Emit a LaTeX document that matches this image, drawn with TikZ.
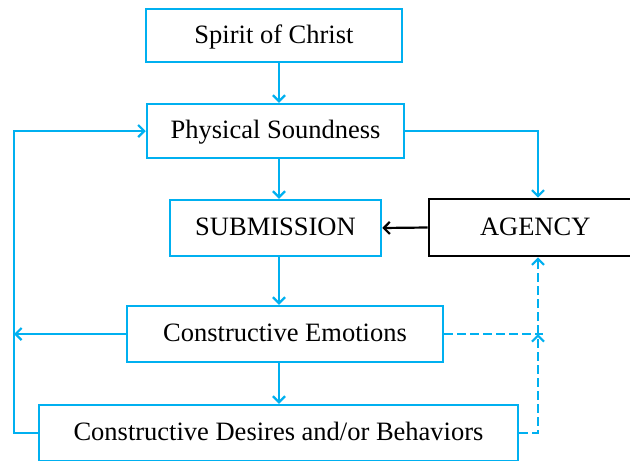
\documentclass[tikz,border=0pt]{standalone}
\usepackage{fontspec}
\setmainfont{Liberation Serif}
\usetikzlibrary{arrows.meta}
\definecolor{flowblue}{RGB}{0,176,240}
\begin{document}
\begin{tikzpicture}[x=1pt,y=-1pt,
  box/.style={draw=flowblue,line width=2.5pt,fill=white,inner sep=0pt,
    text height=17pt,text depth=2pt,
    font=\fontsize{26.5}{30}\selectfont},
  blackbox/.style={box,draw=black,line width=2.6pt},
  link/.style={draw=flowblue,line width=2.4pt,-{Straight Barb[length=6pt,width=12pt,line width=2.2pt]}},
  plain/.style={draw=flowblue,line width=2.4pt},
  blacklink/.style={draw=black,line width=2.2pt,-{Straight Barb[length=6pt,width=12pt,line width=2.2pt]}},
  dashlink/.style={link,dash pattern=on 9pt off 4pt},
  dashline/.style={plain,dash pattern=on 9pt off 4pt}]
\clip (0,0) rectangle (630,461);
\fill[white] (0,0) rectangle (630,461);

% boxes
\node[box,minimum width=256pt,minimum height=53pt] (spirit) at (274,35.5) {Spirit of Christ};
\node[box,minimum width=257pt,minimum height=54pt] (phys) at (275.5,131) {Physical Soundness};
\node[box,minimum width=211pt,minimum height=56pt] (sub) at (275.5,228) {SUBMISSION};
\node[blackbox,minimum width=214pt,minimum height=57pt,text width=200pt,align=left] (agency) at (536,227.5) {\hspace*{44pt}AGENCY};
\node[box,minimum width=316pt,minimum height=56pt] (emo) at (285,334) {Constructive Emotions};
\node[box,minimum width=479pt,minimum height=56pt] (des) at (278.5,433) {Constructive Desires and/or Behaviors};

% guide coordinates
\coordinate (axis) at (279,0);
\coordinate (leftrail) at (14,0);
\coordinate (rightrail) at (538,0);
\coordinate (junc) at (538,334);
\coordinate (dend) at (543,334);

% main downward flow
\draw[link] (spirit.south -| axis) -- (phys.north -| axis);
\draw[link] (phys.south -| axis) -- (sub.north -| axis);
\draw[link] (sub.south -| axis) -- (emo.north -| axis);
\draw[link] (emo.south -| axis) -- (des.north -| axis);

% physical soundness to agency, agency to submission
\draw[link] (phys.east) -- (phys.east -| rightrail) -- (agency.north -| rightrail);
\draw[blacklink] (agency.west) -- (sub.east);

% left feedback rail
\draw[link] (emo.west) -- (emo.west -| leftrail);
\draw[link] (des.west) -- (des.west -| leftrail) -- (phys.west -| leftrail) -- (phys.west);

% dashed right rail
\draw[dashline] (emo.east) -- (dend);
\draw[dashlink] (des.east) -- (des.east -| rightrail) -- (junc);
\draw[dashlink] (junc) -- (agency.south -| rightrail);
\end{tikzpicture}
\end{document}
